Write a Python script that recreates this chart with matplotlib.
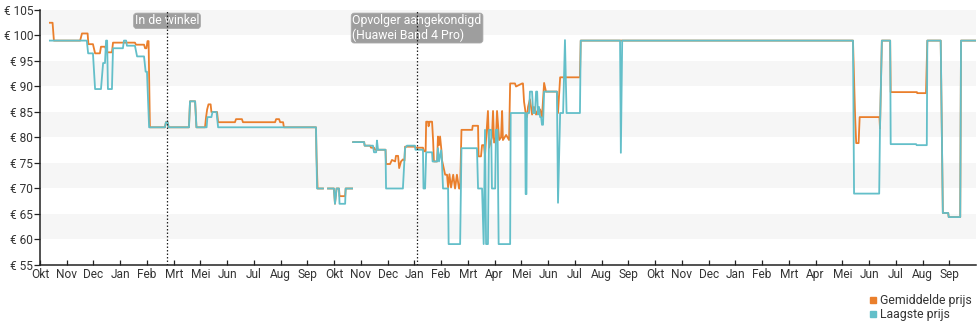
import numpy as np
import matplotlib
matplotlib.use("Agg")
import matplotlib.pyplot as plt
from matplotlib.lines import Line2D

plt.rcParams["font.family"] = ["Roboto", "DejaVu Sans"]

# x-as: ticks staan op gelijke afstand (1 eenheid per tick)
month_labels = [
    "Okt", "Nov", "Dec", "Jan", "Feb", "Mrt", "Mei", "Jun", "Jul", "Aug", "Sep",
    "Okt", "Nov", "Dec", "Jan", "Feb", "Mrt", "Apr", "Mei", "Jun", "Jul", "Aug", "Sep",
    "Okt", "Nov", "Dec", "Jan", "Feb", "Mrt", "Apr", "Mei", "Jun", "Jul", "Aug", "Sep",
]

# laagste prijs (t, euro)
low_t = [
    0.37, 1.75, 1.80, 1.98, 2.06, 2.28, 2.36, 2.43, 2.47, 2.51, 2.54, 2.69, 2.73,
    3.10, 3.14, 3.22, 3.25, 3.55, 3.63, 3.89, 3.95, 4.00, 4.08, 4.67, 4.71, 4.77,
    4.81, 5.57, 5.61, 5.80, 5.85, 6.23, 6.26, 6.41, 6.45, 6.60, 6.66, 10.32, 10.36,
    10.58, np.nan, 10.77, 10.99, 11.03, 11.09, 11.18, 11.20, 11.41, 11.43, 11.67,
    np.nan, 11.71, 12.12, 12.14, 12.45, 12.49, 12.57, 12.60, 12.64, 12.83, 12.92,
    12.94, 13.57, 13.65, 13.72, 14.02, 14.04, 14.32, 14.34, 14.40, 14.44, 14.66,
    14.68, 14.85, 14.88, 14.92, 15.00, 15.03, 15.07, 15.26, 15.28, 15.71, 15.76,
    16.34, 16.38, 16.53, 16.59, 16.64, 16.68, 16.75, 16.79, 16.87, 16.90, 17.02,
    17.05, 17.11, 17.15, 17.58, 17.60, 18.14, 18.16, 18.19, 18.21, 18.29, 18.32,
    18.40, 18.44, 18.51, 18.55, 18.59, 18.62, 18.66, 18.70, 18.74, 18.77, 18.81,
    18.85, 19.33, 19.37, 19.45, 19.56, 19.63, 19.69, 20.19, 20.22, 21.69, 21.72,
    21.77, 30.40, 30.44, 31.38, 31.41, 31.48, 31.79, 31.81, 32.76, 32.78, 33.16,
    33.18, 33.68, 33.76, 33.96, 33.98, 34.41, 34.44, 35.00,
]
low_price = [
    99, 99, 96.5, 96.5, 89.5, 89.5, 94.6, 94.6, 99, 99, 89.5, 89.5, 97.5,
    97.5, 99, 99, 98, 98, 95.9, 95.9, 92.9, 92.9, 82, 82, 83, 83,
    82, 82, 87.1, 87.1, 82, 82, 84, 84, 85, 85, 82, 82, 70,
    70, np.nan, 70, 70, 67, 70, 70, 67, 67, 70, 70,
    np.nan, 79.1, 79.1, 78.4, 78.4, 77.1, 77.1, 79.4, 77.6, 77.6, 77.6,
    70, 70, 77.9, 78.4, 78.4, 77.6, 77.6, 70, 70, 77.1, 77.1,
    75.3, 75.3, 77.9, 75.3, 77.5, 75.3, 70, 70, 59.1, 59.1, 77.9,
    77.9, 70, 70, 59.1, 81.5, 59.1, 59.1, 81.5, 81.5, 70, 70,
    81.5, 81.5, 59.1, 59.1, 84.8, 84.8, 68.9, 68.9, 84.8, 84.8, 89.0,
    89.0, 84.8, 84.8, 89.0, 89.0, 84.5, 86, 84, 84, 82.5, 82.5,
    89.0, 89.0, 67.2, 84.8, 84.8, 99.1, 84.8, 84.8, 99, 99, 77,
    99, 99, 69, 69, 81.8, 99, 99, 78.7, 78.7, 78.5, 78.5,
    99, 99, 65.2, 65.2, 64.4, 64.4, 99, 99,
]

# gemiddelde prijs (t, euro)
avg_t = [
    0.37, 0.47, 0.52, 1.50, 1.57, 1.78, 1.81, 1.98, 2.06, 2.24, 2.28, 2.43, 2.52,
    2.69, 2.73, 3.55, 3.59, 3.89, 3.93, 3.98, 4.02, 4.06, 4.11, 4.67, 4.71, 4.77,
    4.81, 5.57, 5.61, 5.80, 5.85, 6.17, 6.21, 6.25, 6.30, 6.38, 6.41, 6.62, 6.66,
    7.29, 7.33, 7.55, 7.59, 8.79, 8.83, 8.94, 8.98, 9.09, 9.12, 10.32, 10.34, 10.38,
    10.58, np.nan, 10.77, 10.99, 11.03, 11.09, 11.18, 11.20, 11.41, 11.43, 11.67,
    np.nan, 11.71, 12.12, 12.14, 12.34, 12.38, 12.49, 12.53, 12.83, 12.92, 12.94,
    13.09, 13.16, 13.28, 13.31, 13.39, 13.43, 13.50, 13.57, 13.63, 13.65, 14.02,
    14.04, 14.32, 14.36, 14.42, 14.44, 14.51, 14.53, 14.57, 14.66, 14.70, 14.73,
    14.85, 14.88, 14.92, 14.96, 15.01, 15.03, 15.15, 15.22, 15.26, 15.31, 15.37,
    15.45, 15.52, 15.59, 15.67, 15.71, 15.76, 16.16, 16.18, 16.38, 16.40, 16.49,
    16.53, 16.60, 16.64, 16.75, 16.79, 16.90, 16.94, 16.98, 17.05, 17.09, 17.17,
    17.24, 17.28, 17.31, 17.43, 17.54, 17.58, 17.76, 17.80, 18.03, 18.06, 18.10,
    18.16, 18.21, 18.25, 18.32, 18.40, 18.47, 18.55, 18.62, 18.70, 18.77, 18.85,
    18.92, 19.33, 19.37, 19.45, 20.19, 20.22, 30.40, 30.48, 30.52, 30.61, 30.65,
    31.39, 31.41, 31.48, 31.79, 31.81, 32.79, 32.80, 33.13, 33.18, 33.68, 33.76,
    33.96, 33.98, 34.41, 34.44, 35.00,
]
avg_price = [
    102.5, 102.5, 99, 99, 100.4, 100.4, 98.3, 98.3, 96.5, 96.5, 97.8, 97.8, 96.7,
    96.7, 98.6, 98.6, 98.2, 98.2, 97.5, 97.5, 98.9, 98.9, 82, 82, 83, 83,
    82, 82, 87.1, 87.1, 82, 82, 84, 85.5, 86.5, 86.5, 85, 85, 83,
    83, 83.6, 83.6, 83, 83, 83.6, 83.6, 83, 83, 82, 82, 76.3, 70,
    70, np.nan, 70, 70, 67, 70, 70, 68.5, 68.5, 70, 70,
    np.nan, 79.1, 79.1, 78.4, 78.4, 78.0, 78.0, 77.6, 77.6, 77.6, 74.8,
    74.8, 75.6, 75.3, 76.4, 76.4, 74.0, 75.3, 75.7, 75.5, 78.2, 78.2,
    78.0, 78.0, 77.3, 77.3, 83.1, 83.1, 82.2, 83.1, 83.1, 79.4, 75.3,
    75.3, 80.2, 78.5, 80.2, 77.5, 75.6, 72.7, 72.7, 70.2, 72.8, 70.2,
    72.7, 70.0, 72.7, 70.0, 70.0, 81.5, 81.5, 82.3, 82.3, 76.3, 76.3,
    78.5, 78.5, 76.5, 85.2, 78.0, 80.0, 85.2, 79.0, 80.0, 85.2, 79.5,
    80.0, 85.2, 79.5, 80.5, 79.5, 90.6, 90.6, 90.0, 90.6, 90.6, 87.0,
    84.8, 84.0, 86.0, 87.5, 84.5, 86.0, 84.5, 85.5, 85.5, 84.0, 90.7,
    89.0, 89.0, 84.8, 91.8, 91.8, 99, 99, 84.0, 78.9, 78.9, 84.0,
    84.0, 81.8, 99, 99, 88.9, 88.9, 88.7, 88.7, 99, 99, 65.2,
    65.2, 64.4, 64.4, 99, 99,
]

events = [4.75, 14.1]
event_labels = ["In de winkel", "Opvolger aangekondigd\n(Huawei Band 4 Pro)"]

orange = "#ea7f2c"
teal = "#63bfc9"
text_color = "#333333"

fig = plt.figure(figsize=(9.8, 3.25), dpi=100)
ax = fig.add_axes([40 / 980, 60 / 325, 936 / 980, 255 / 325])

# grijze banden
for lo in range(60, 105, 10):
    ax.axhspan(lo, lo + 5, color="#f6f6f6", lw=0, zorder=0)

ax.plot(avg_t, avg_price, color=orange, lw=1.3, zorder=3)
ax.plot(low_t, low_price, color=teal, lw=1.3, zorder=4)

for x, label in zip(events, event_labels):
    ax.axvline(x, color="#222222", ls=(0, (1.2, 1.6)), lw=0.9, zorder=7)
    ax.text(x, 0.983, label, transform=ax.get_xaxis_transform(),
            ha="center", va="top", multialignment="left",
            color="white", fontsize=8.8, zorder=6, linespacing=1.1,
            bbox=dict(boxstyle="round,pad=0.1,rounding_size=0.25",
                      fc="#999999", ec="#aaaaaa", lw=0.6, alpha=0.95))

ax.set_xlim(0, 35.0)
ax.set_ylim(55, 105)
ax.set_xticks(range(len(month_labels)))
ax.set_xticklabels(month_labels)
yt = list(range(55, 106, 5))
ax.set_yticks(yt)
ax.set_yticklabels([f"€ {v}" for v in yt])

for s in ["top", "right"]:
    ax.spines[s].set_visible(False)
for s in ["left", "bottom"]:
    ax.spines[s].set_color("#222222")
    ax.spines[s].set_linewidth(1.1)
ax.tick_params(axis="both", colors="#222222", labelcolor=text_color,
               labelsize=8.6, length=4, width=0.9, pad=1)
ax.tick_params(axis="x", direction="in", length=3.5, pad=2)

handles = [
    Line2D([], [], marker="s", ls="", color=orange, markersize=5),
    Line2D([], [], marker="s", ls="", color=teal, markersize=5),
]
fig.legend(handles, ["Gemiddelde prijs", "Laagste prijs"], loc="upper right",
           bbox_to_anchor=(0.998, 0.113), frameon=False, fontsize=8.8,
           handlelength=0.6, handletextpad=0.3, labelspacing=0.05,
           borderpad=0, labelcolor=text_color)

fig.savefig("out.png", dpi=100)
